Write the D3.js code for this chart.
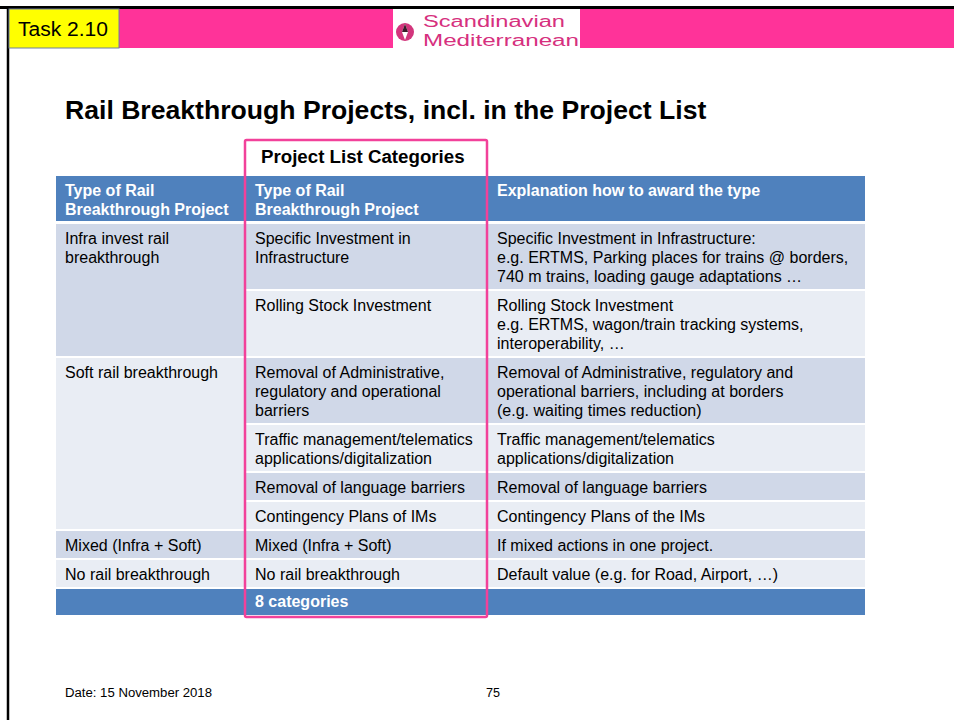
<!DOCTYPE html>
<html><head><meta charset="utf-8">
<script src="https://cdn.jsdelivr.net/npm/d3@7"></script>
<style>html,body{margin:0;padding:0;background:#fff;}svg{display:block;}</style>
</head><body>
<script>
// ---- data ----
const slideTitle = "Rail Breakthrough Projects, incl. in the Project List";
const taskLabel = "Task 2.10";
const logoLines = ["Scandinavian", "Mediterranean"];
const boxTitle = "Project List Categories";
const headers = [
  ["Type of Rail", "Breakthrough Project"],
  ["Type of Rail", "Breakthrough Project"],
  ["Explanation how to award the type"]
];
// group column: label lines, number of rows spanned
const groups = [
  {lines: ["Infra invest rail", "breakthrough"], span: 2},
  {lines: ["Soft rail breakthrough"], span: 4},
  {lines: ["Mixed (Infra + Soft)"], span: 1},
  {lines: ["No rail breakthrough"], span: 1}
];
const categories = [
  ["Specific Investment in", "Infrastructure"],
  ["Rolling Stock Investment"],
  ["Removal of Administrative,", "regulatory and operational", "barriers"],
  ["Traffic management/telematics", "applications/digitalization"],
  ["Removal of language barriers"],
  ["Contingency Plans of IMs"],
  ["Mixed (Infra + Soft)"],
  ["No rail breakthrough"]
];
const explanations = [
  ["Specific Investment in Infrastructure:", "e.g. ERTMS, Parking places for trains @ borders,", "740 m trains, loading gauge adaptations \u2026"],
  ["Rolling Stock Investment", "e.g. ERTMS, wagon/train tracking systems,", "interoperability, \u2026"],
  ["Removal of Administrative, regulatory and", "operational barriers, including at borders", "(e.g. waiting times reduction)"],
  ["Traffic management/telematics", "applications/digitalization"],
  ["Removal of language barriers"],
  ["Contingency Plans of the IMs"],
  ["If mixed actions in one project."],
  ["Default value (e.g. for Road, Airport, \u2026)"]
];
const totalLabel = "8 categories";
const footerDate = "Date: 15 November 2018";
const pageNumber = "75";

// ---- layout ----
const W = 954, H = 720;
const FONT = "'Liberation Sans', Arial, sans-serif";
const colX = [56, 245, 487, 865];
const headerTop = 176, headerH = 45;
const lineH = 19, padTop = 20, gap = 2, FS = 16;
const blue = "#4f81bd", dark = "#d0d8e8", light = "#e9edf4", pink = "#ff3399", boxPink = "#f2419a";

const svg = d3.select("body").append("svg").attr("width", W).attr("height", H)
  .style("font-family", FONT);

// slide frame
svg.append("rect").attr("x", 0).attr("y", 0).attr("width", W).attr("height", H).attr("fill", "#fff");
svg.append("line").attr("x1", 0).attr("x2", W).attr("y1", 7.5).attr("y2", 7.5).attr("stroke", "#000").attr("stroke-width", 3);
svg.append("line").attr("x1", 8).attr("x2", 8).attr("y1", 6).attr("y2", H).attr("stroke", "#000").attr("stroke-width", 2.5);

// top band
svg.append("rect").attr("x", 9).attr("y", 9).attr("width", W - 9).attr("height", 39).attr("fill", pink);
svg.append("rect").attr("x", 9).attr("y", 9).attr("width", 110).attr("height", 39).attr("fill", "#ffff00")
  .attr("stroke", "#6f7f9f").attr("stroke-width", 1);
svg.append("text").attr("x", 18).attr("y", 36).attr("font-size", 20).attr("fill", "#000")
  .attr("textLength", 90).attr("lengthAdjust", "spacingAndGlyphs").text(taskLabel);

// logo
const logo = svg.append("g");
logo.append("rect").attr("x", 393).attr("y", 9).attr("width", 187).attr("height", 39).attr("fill", "#fff");
logo.append("circle").attr("cx", 405).attr("cy", 32).attr("r", 9).attr("fill", "#d2357c");
logo.append("path").attr("d", "M405,24 L408,32 L405,40 L402,32 Z").attr("fill", "#fff");
logo.append("path").attr("d", "M405,24 L408,32 L402,32 Z").attr("fill", "#3a1a2a");
logo.selectAll("text.logo").data(logoLines).join("text").attr("class", "logo")
  .attr("x", 423).attr("y", (d, i) => 26.5 + i * 19.5)
  .attr("font-size", 16).attr("fill", "#d6307e")
  .attr("textLength", (d, i) => i === 0 ? 142 : 156).attr("lengthAdjust", "spacingAndGlyphs")
  .text(d => d);

// title
svg.append("text").attr("x", 65).attr("y", 119).attr("font-size", 26.6).attr("font-weight", "bold")
  .attr("fill", "#000").text(slideTitle);

// row geometry from line counts
const rowLines = categories.map((c, i) => Math.max(c.length, explanations[i].length));
const rows = [];
let y = headerTop + headerH + 3;
rowLines.forEach((n) => {
  const h = 8 + n * lineH;
  rows.push({y: y, h: h});
  y += h + gap;
});
const totalY = y, totalH = 26;

// header
const g = svg.append("g");
g.append("rect").attr("x", colX[0]).attr("y", headerTop).attr("width", colX[3] - colX[0]).attr("height", headerH).attr("fill", blue);
headers.forEach((lines, c) => {
  g.append("text").attr("x", colX[c] + 9).attr("y", headerTop + padTop)
    .attr("font-size", FS).attr("font-weight", "bold").attr("fill", "#fff")
    .selectAll("tspan").data(lines).join("tspan")
    .attr("x", colX[c] + (c === 0 ? 9 : 10)).attr("dy", (d, i) => i === 0 ? 0 : lineH).text(d => d);
});

function cellText(x, yTop, lines) {
  const t = g.append("text").attr("x", x).attr("y", yTop + padTop)
    .attr("font-size", FS).attr("fill", "#000");
  t.selectAll("tspan").data(lines).join("tspan")
    .attr("x", x).attr("dy", (d, i) => i === 0 ? 0 : lineH).text(d => d);
}

// group column
let r0 = 0;
groups.forEach((grp, gi) => {
  const top = rows[r0].y;
  const last = rows[r0 + grp.span - 1];
  const bottom = last.y + last.h;
  g.append("rect").attr("x", colX[0]).attr("y", top).attr("width", colX[1] - colX[0])
    .attr("height", bottom - top).attr("fill", gi % 2 === 0 ? dark : light);
  cellText(colX[0] + 9, top, grp.lines);
  r0 += grp.span;
});

// category + explanation columns
categories.forEach((cat, i) => {
  const fill = i % 2 === 0 ? dark : light;
  g.append("rect").attr("x", colX[1]).attr("y", rows[i].y).attr("width", colX[3] - colX[1])
    .attr("height", rows[i].h).attr("fill", fill);
  cellText(colX[1] + 10, rows[i].y, cat);
  cellText(colX[2] + 10, rows[i].y, explanations[i]);
});

// total row
g.append("rect").attr("x", colX[0]).attr("y", totalY).attr("width", colX[3] - colX[0]).attr("height", totalH).attr("fill", blue);
g.append("text").attr("x", colX[1] + 10).attr("y", totalY + 18).attr("font-size", FS)
  .attr("font-weight", "bold").attr("fill", "#fff").text(totalLabel);

// pink highlight box
svg.append("rect").attr("x", colX[1]).attr("y", 140).attr("width", colX[2] - colX[1])
  .attr("height", totalY + totalH + 2 - 140).attr("fill", "none").attr("stroke", boxPink)
  .attr("stroke-width", 2.5).attr("rx", 1.5);
svg.append("text").attr("x", 261).attr("y", 163).attr("font-size", 18.7).attr("font-weight", "bold")
  .attr("fill", "#000").text(boxTitle);

// footer
svg.append("text").attr("x", 65).attr("y", 697).attr("font-size", 12.5).attr("fill", "#000")
  .attr("textLength", 147).attr("lengthAdjust", "spacingAndGlyphs").text(footerDate);
svg.append("text").attr("x", 486).attr("y", 697).attr("font-size", 12.5).attr("fill", "#000")
  .attr("textLength", 14).attr("lengthAdjust", "spacingAndGlyphs").text(pageNumber);
</script>
</body></html>
